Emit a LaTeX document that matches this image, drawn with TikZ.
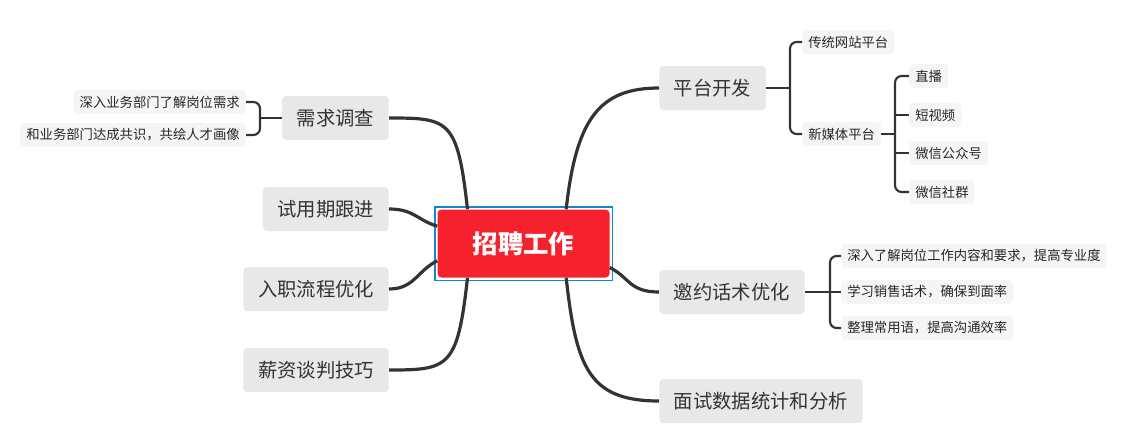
\documentclass[tikz,border=0pt]{standalone}
\usepackage{fontspec}
\setmainfont{Noto Sans CJK SC}
\definecolor{cred}{HTML}{F5222D}
\begin{document}
\begin{tikzpicture}[x=0.75pt,y=-0.75pt,
 l1/.style={fill=black!9,rounded corners=3pt,minimum height=33pt,inner xsep=11pt,font=\fontsize{14.5}{16}\selectfont,text=black!80},
 l2/.style={fill=black!4,rounded corners=3pt,minimum height=18pt,inner xsep=4.5pt,font=\fontsize{10}{11}\selectfont,text=black!85},
 con/.style={draw=black!80,line width=2.4pt},
 br/.style={draw=black!80,line width=1.6pt,rounded corners=5pt}]
\useasboundingbox (0,0) rectangle (1129,433);
% central
\node[draw=cyan!70!blue,line width=1pt,minimum width=133pt,minimum height=55pt] (sel) at (523.5,243.5) {};
\node[fill=cred,draw=none,rounded corners=3pt,minimum width=129pt,minimum height=51pt,text=white,font=\fontsize{19}{21}\selectfont\bfseries] (c) at (523.5,243.5) {招聘工作};
% level 1
\node[l1,anchor=west] (a) at (659,88) {平台开发};
\node[l1,anchor=west] (b) at (659,292) {邀约话术优化};
\node[l1,anchor=west] (d) at (659,401) {面试数据统计和分析};
\node[l1,anchor=east] (e) at (389,118) {需求调查};
\node[l1,anchor=east] (f) at (389,209) {试用期跟进};
\node[l1,anchor=east] (g) at (389,289) {入职流程优化};
\node[l1,anchor=east] (h) at (389,370) {薪资谈判技巧};
% level 2
\node[l2,anchor=west] (a1) at (802,42) {传统网站平台};
\node[l2,anchor=west] (a2) at (802,134) {新媒体平台};
\node[l2,anchor=west] (m1) at (909,76) {直播};
\node[l2,anchor=west] (m2) at (909,115) {短视频};
\node[l2,anchor=west] (m3) at (909,153) {微信公众号};
\node[l2,anchor=west] (m4) at (909,192) {微信社群};
\node[l2,anchor=west] (b1) at (841,256) {深入了解岗位工作内容和要求，提高专业度};
\node[l2,anchor=west] (b2) at (841,292) {学习销售话术，确保到面率};
\node[l2,anchor=west] (b3) at (841,328) {整理常用语，提高沟通效率};
\node[l2,anchor=east] (e1) at (246,102) {深入业务部门了解岗位需求};
\node[l2,anchor=east] (e2) at (246,135) {和业务部门达成共识，共绘人才画像};
% connectors
\draw[con] ([xshift=32pt]c.north) .. controls +(10,-90) and +(-60,0) .. (a.west);
\draw[con] ([yshift=-18pt]c.east) .. controls +(20,10) and +(-30,0) .. (b.west);
\draw[con] ([xshift=32pt]c.south) .. controls +(10,90) and +(-70,0) .. (d.west);
\draw[con] ([xshift=-42pt]c.north) .. controls +(-10,-90) and +(60,0) .. (e.east);
\draw[con] ([yshift=13pt]c.west) .. controls +(-20,-6) and +(25,0) .. (f.east);
\draw[con] ([yshift=-13pt]c.west) .. controls +(-20,10) and +(25,0) .. (g.east);
\draw[con] ([xshift=-42pt]c.south) .. controls +(-10,90) and +(60,0) .. (h.east);
% brackets
\draw[br] (a.east) -- (790,88);
\draw[br] (a1.west) -- (790,42) -- (790,134) -- (a2.west);
\draw[br] (a2.east) -- (895,134);
\draw[br] (m1.west) -- (895,76) -- (895,192) -- (m4.west);
\draw[br] (895,115) -- (m2.west);
\draw[br] (895,153) -- (m3.west);
\draw[br] (b.east) -- (830,292);
\draw[br] (b1.west) -- (830,256) -- (830,328) -- (b3.west);
\draw[br] (830,292) -- (b2.west);
\draw[br] (e.west) -- (260,118);
\draw[br] (e1.east) -- (260,102) -- (260,135) -- (e2.east);
\end{tikzpicture}
\end{document}
